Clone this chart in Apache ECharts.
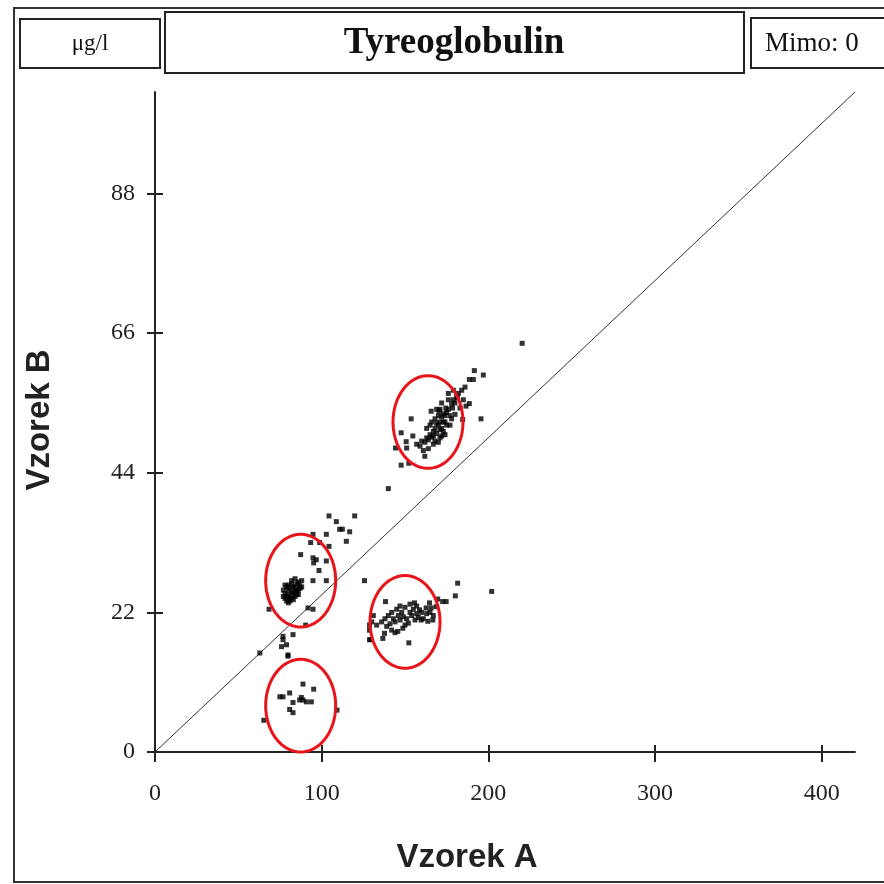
<!DOCTYPE html>
<html><head><meta charset="utf-8">
<script src="https://cdn.jsdelivr.net/npm/echarts@6/dist/echarts.min.js"></script>
<style>html,body{margin:0;padding:0;background:#fff}#c{width:884px;height:884px}</style>
</head><body><div id="c"></div>
<script>
var unitText = 'μg/l';
var titleText = 'Tyreoglobulin';
var outsideText = 'Mimo: 0';
var xAxisName = 'Vzorek A';
var yAxisName = 'Vzorek B';
var xTicks = [0, 100, 200, 300, 400];
var yTicks = [0, 22, 44, 66, 88];
var xMax = 420, yMax = 104;
var diagonal = [[0, 0], [420, 104]];

var clusterUpper = [
 [220.3,64.4],[191.6,60.1],[188.6,58.7],[191,58.7],[197,59.4],[181.4,55.8],[188.6,54.9],[186.6,54.5],
 [195.6,52.5],[184.6,52.4],[153.7,52.5],[165.7,53.7],[170.5,53.7],[174.5,54.2],[178.5,54.2],
 [147.7,50.3],[150.7,48.9],[154.7,49.8],[144.3,47.9],[151,47.9],[161.9,46.6],[147.7,45.2],[152.3,45.5],
 [140,41.5],
 [157,48.5],[159,48.2],[160,49],[162,48.8],[163,49.5],[164,49.2],[165,50],[166,49.6],[167,50.5],[168,51],
 [169,50.2],[170,51.5],[171,52],[172,51],[172,52.8],[173,53.3],[174,52],[175,53.5],[176,54],[177,53],
 [178,54.8],[179,55.5],[180,55],[181,56],[182,56.5],[168,52.5],[166,52],[170,53],[169,54],[171,49.5],
 [173,50.5],[175,51.5],[167,48.5],[164,47.8],[161,47.5],[176,55.5],[172,55],[174,50],[177,51.5],[170,48.8],
 [168,49],[165,51.5],[163,51],[171,54],[178,52.5],[180,53.2],[183,54.2],[185,55.5],[184,57],[186,57.5],
 [179,57],[176,56.5],[169,51.8],[171,50.8],[173,52],[167,49.8],[174,53],[172,49.8]
];
var clusterLeftMid = [
 [104.4,37.2],[119.8,37.2],[108.8,36.3],[110.8,35.1],[112.4,35.1],[116.8,34.7],[114.8,33.2],[94.8,34.3],
 [102.8,34.3],[93.4,33],[98.8,33],[104.4,32.4],[87.4,31.1],[94.8,30.6],[95.2,29.8],[96.8,30.3],[98.4,28.6],
 [102.8,30.1],[94.8,27],[102.8,27],[125.7,27],
 [78,25],[79,24.5],[80,25.5],[81,24.2],[82,25],[83,26],[84,25.3],[85,26.5],[86,26.8],[80,26.3],[79,26],
 [82,26.5],[84,24.5],[81,23.8],[83,24],[86,25.5],[87,26.2],[78,24.2],[80,23.5],[85,24.8],[88,27],[82,27],[84,27.3],
 [77,25.5],[78,26.3],[79,23.8],[80,24.8],[81,25.8],[82,24.3],[83,25.2],[84,26],[85,25.5],[86,24.8],[87,25.8],[77,24.5],[88,26],
 [68.4,22.5],[91.8,22.7],[94.8,22.5],[90.4,20],[82.8,18.5],[76.8,18.2],[76.8,17.7],[78.9,16.9],[75.9,16.6],
 [79.8,15.3],[62.9,15.6]
];
var clusterRightMid = [
 [181.6,26.6],[180.2,24.6],[202,25.3],[169.6,24.1],[172.6,23.7],[174.7,23.7],[138.3,23.7],[155.7,23.5],[164.7,23.5],
 [128.7,20],[128.7,19.2],[129.5,17.7],[128.7,17.7],[136.7,17.9],[137.7,18.7],[152.3,17.2],[145.7,19],[148.7,19.5],
 [159.7,20.8],[163.7,20.6],[166.7,20.8],[158.7,22.4],[162.7,22.7],[165.7,22.7],[168.7,22.9],
 [136,20.5],[138,21],[140,21.5],[141,20.2],[142,22],[143,21],[144,20.5],[145,22.5],[146,21.5],[147,20.8],
 [148,22],[149,21.3],[150,22.8],[151,21],[152,20.3],[153,22],[154,21.5],[155,22.5],[156,20.8],[157,21.8],
 [158,21.2],[160,22],[161,21],[163,21.8],[165,22],[167,21.5],[139,19.8],[142,19.2],[144,18.8],[147,23],
 [150,20],[153,23.3],[157,23],[130,20.5],[131,21.5],[133,20]
];
var clusterLow = [
 [79.8,15.1],[88.8,10.7],[95.2,9.9],[74.9,8.7],[76.8,8.7],[80.8,9.3],[86.8,8.2],[88.8,8.2],[90.8,7.9],
 [93.8,7.9],[87.8,8.6],[82.8,7.8],[80.8,6.7],[82.8,6.2],[65.3,5.0],[109.2,6.6]
];
// annotation ellipses: [centerX, centerY, radiusX, radiusY] in data units
var ellipses = [
 [163.8, 52.0, 21, 7.3],
 [87.4, 27.0, 21, 7.3],
 [150.0, 20.5, 21, 7.3],
 [87.4, 7.3, 21, 7.3]
];

var allPoints = clusterUpper.concat(clusterLeftMid, clusterRightMid, clusterLow);

var chart = echarts.init(document.getElementById('c'), null, {renderer: 'canvas'});
var serif = '"Liberation Serif", "DejaVu Serif", serif';
var sans = '"Liberation Sans", Arial, sans-serif';

function baseX(show) {
  return {
    type: 'value', min: 0, max: xMax, interval: 100, position: 'bottom',
    axisLine: {show: show, onZero: false, lineStyle: {color: '#222', width: 2}},
    axisTick: {show: true, inside: !show, length: show ? 10 : 7, lineStyle: {color: '#222', width: 2},
      customValues: xTicks},
    axisLabel: {show: show, margin: 30, fontFamily: serif, fontSize: 24, color: '#222', customValues: xTicks},
    splitLine: {show: false}
  };
}
function baseY(show) {
  return {
    type: 'value', min: 0, max: yMax, position: 'left',
    axisLine: {show: show, onZero: false, lineStyle: {color: '#222', width: 2}},
    axisTick: {show: true, inside: !show, length: 8, lineStyle: {color: '#222', width: 2}, customValues: yTicks},
    axisLabel: {show: show, margin: 20, fontFamily: serif, fontSize: 24, color: '#222', customValues: yTicks},
    splitLine: {show: false}
  };
}

var option = {
  animation: false,
  backgroundColor: '#fff',
  grid: {left: 155, right: 29, top: 92, bottom: 132, containLabel: false},
  xAxis: [baseX(true), baseX(false)],
  yAxis: [baseY(true), baseY(false)],
  graphic: [
    {type: 'rect', shape: {x: 14, y: 8, width: 880, height: 874}, style: {fill: 'none', stroke: '#333', lineWidth: 2}, z: 100},
    {type: 'rect', shape: {x: 20, y: 19, width: 140, height: 49}, style: {fill: '#fff', stroke: '#222', lineWidth: 2}, z: 100},
    {type: 'rect', shape: {x: 165, y: 12, width: 579, height: 61}, style: {fill: '#fff', stroke: '#222', lineWidth: 2}, z: 100},
    {type: 'rect', shape: {x: 751, y: 18, width: 140, height: 50}, style: {fill: '#fff', stroke: '#222', lineWidth: 2}, z: 100},
    {type: 'text', x: 90, y: 44, z: 101, style: {text: unitText, fontFamily: serif, fontSize: 23, fill: '#111', align: 'center', verticalAlign: 'middle'}},
    {type: 'text', x: 454, y: 43, z: 101, style: {text: titleText, fontFamily: serif, fontSize: 37, fontWeight: 'bold', fill: '#111', align: 'center', verticalAlign: 'middle'}},
    {type: 'text', x: 765, y: 44, z: 101, style: {text: outsideText, fontFamily: serif, fontSize: 27, fill: '#111', align: 'left', verticalAlign: 'middle'}},
    {type: 'text', x: 467, y: 858, z: 101, style: {text: xAxisName, fontFamily: sans, fontSize: 33, fontWeight: 'bold', fill: '#222', align: 'center', verticalAlign: 'middle'}},
    {type: 'text', x: 40, y: 420, rotation: Math.PI / 2, z: 101, style: {text: yAxisName, fontFamily: sans, fontSize: 33, fontWeight: 'bold', fill: '#222', align: 'center', verticalAlign: 'middle'}}
  ],
  series: [
    {type: 'line', data: diagonal, showSymbol: false, symbol: 'none', lineStyle: {color: '#333', width: 1}, z: 2, silent: true},
    {type: 'scatter', data: allPoints, symbol: 'rect', symbolSize: 5, itemStyle: {color: '#000'}, z: 3},
    {type: 'custom', data: ellipses, z: 4, silent: true,
      renderItem: function (params, api) {
        var cx = api.value(0), cy = api.value(1), rx = api.value(2), ry = api.value(3);
        var pts = [];
        for (var i = 0; i < 90; i++) {
          var a = i / 90 * Math.PI * 2;
          pts.push(api.coord([cx + rx * Math.cos(a), cy + ry * Math.sin(a)]));
        }
        return {type: 'polygon', shape: {points: pts}, style: {fill: 'none', stroke: '#e8141a', lineWidth: 3}};
      }
    }
  ]
};
chart.setOption(option);
</script>
</body></html>
